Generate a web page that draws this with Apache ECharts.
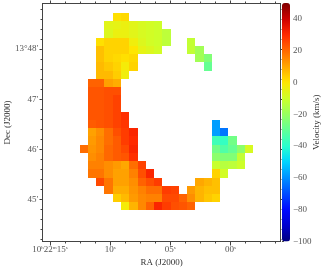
<!DOCTYPE html>
<html><head><meta charset="utf-8">
<style>html,body{margin:0;padding:0;background:#fff}#c{width:326px;height:272px}</style>
<script src="https://cdn.jsdelivr.net/npm/echarts@6/dist/echarts.min.js"></script>
</head><body><div id="c"></div>
<script>
// RA is seconds past 10h22m, Dec is arcminutes past 13 deg
const raFirstCol = 12.186, raStep = 0.687;
const decFirstRow = 48.64, decStep = 0.1643;
// [row, first column, velocities km/s]
const velocityRuns = [
 [0,4,[1,2]],
 [1,3,[-6,-5,-4,-6,-8,-9,-10]],
 [2,3,[-7,-4,-4,-6,-8,-9,-10,-13]],
 [3,2,[1,3,3,3,-3,-7,-9,-10,-13]],[3,13,[-12]],
 [4,2,[6,3,3,3,0,-5,-7,-9]],[4,13,[-12,-18]],
 [5,2,[6,3,2,1,2]],[5,14,[-18,-24]],
 [6,2,[7,5,3,-2,3]],[6,15,[-29]],
 [7,2,[7,7,4,-3]],
 [8,1,[21,21,11,9]],
 [9,1,[23,23,24,24]],
 [10,1,[23,23,24,26]],
 [11,1,[23,23,24,26]],
 [12,1,[23,23,24,26,29]],
 [13,1,[22,23,24,26,28]],[13,16,[-58]],
 [14,1,[11,14,19,24,27,31]],[14,16,[-58,-64]],
 [15,1,[12,15,19,22,27,30]],[15,16,[-36,-38,-27]],
 [16,0,[19,13,15,20,22,25,31]],[16,16,[-27,-33,-29,-22,-8]],
 [17,1,[14,16,20,22,23,29]],[17,16,[-22,-24,-24,-12]],
 [18,1,[16,16,14,12,10,19,26]],[18,16,[-11,-14,-13,-10]],
 [19,1,[18,18,14,11,11,16,24,31]],[19,16,[3,-9]],
 [20,2,[25,18,11,11,14,21,24,27]],[20,14,[10,8,6]],
 [21,3,[18,9,9,13,16,19,19,27,26]],[21,13,[12,8,6,6]],
 [22,4,[4,7,12,15,16,16,25,25,21,14,8,5,3]],
 [23,5,[-2,8,15,21,31,27,24,23,21]]
];
const jetColors = ['#00007f','#0000cd','#0008ff','#004cff','#0090ff','#00d4ff','#29ffcd','#60ff97','#97ff60','#cdff29','#ffe600','#ffa700','#ff6800','#ff2900','#cd0000','#7f0000'];
const raMajor = [15,10,5,0];
const raMinor = [13.75,12.5,11.25,8.75,7.5,6.25,3.75,2.5,1.25,-1.25,-2.5,-3.75];
const raLabels = {15:'10{s|h}22{s|m}15{s|s}',10:'10{s|s}',5:'05{s|s}',0:'00{s|s}'};
const decMajor = [48,47,46,45];
const decMinor = [48.8,48.6,48.4,48.2,47.8,47.6,47.4,47.2,46.8,46.6,46.4,46.2,45.8,45.6,45.4,45.2,44.8,44.6,44.4,44.2];
const decLabels = {48:'13°48′',47:'47′',46:'46′',45:'45′'};
const velTicks = [-100,-80,-60,-40,-20,0,20,40];
const raRange = [-4.16,15.62], decRange = [44.16,48.91], velRange = [-100,50];

const ink = '#444', textInk = '#555', serif = '"Liberation Serif","DejaVu Serif",serif';
const cells = [];
velocityRuns.forEach(([row,col,vals]) => vals.forEach((v,i) =>
  cells.push([raFirstCol-(col+i)*raStep, decFirstRow-row*decStep, v])));

const hide = {show:false};
function xA(pos,vals,len,labels){
  return {type:'value',gridIndex:0,position:pos,inverse:true,min:raRange[0],max:raRange[1],
    splitLine:hide,axisLine:{show:true,onZero:false,lineStyle:{color:ink,width:1}},
    axisTick:{show:true,length:len,customValues:vals,lineStyle:{color:ink,width:1}},
    axisLabel:labels?{show:true,customValues:vals,margin:4,fontFamily:serif,fontSize:9,color:textInk,
      hideOverlap:false,showMinLabel:true,showMaxLabel:true,
      formatter:v=>raLabels[v]||'',rich:{s:{fontSize:5,fontFamily:serif,color:textInk,verticalAlign:'top',lineHeight:9}}}:hide,
    name:labels?'RA (J2000)':'',nameLocation:'middle',nameGap:17,nameMoveOverlap:false,
    nameTextStyle:{fontFamily:serif,fontSize:9,color:'#333'}};
}
function yA(pos,vals,len,labels){
  return {type:'value',gridIndex:0,position:pos,min:decRange[0],max:decRange[1],
    splitLine:hide,axisLine:{show:true,onZero:false,lineStyle:{color:ink,width:1}},
    axisTick:{show:true,length:len,customValues:vals,lineStyle:{color:ink,width:1}},
    axisLabel:labels?{show:true,customValues:vals,margin:4,fontFamily:serif,fontSize:9,color:textInk,
      formatter:v=>decLabels[v]||''}:hide,
    name:labels?'Dec (J2000)':'',nameLocation:'middle',nameGap:30,nameMoveOverlap:false,
    nameTextStyle:{fontFamily:serif,fontSize:9,color:'#333'}};
}
const option = {
  animation:false,backgroundColor:'#fff',
  grid:[{left:42.5,top:3.5,width:238,height:238,containLabel:false,outerBoundsMode:'none'},
        {left:282,top:3,width:8,height:238.5,containLabel:false,outerBoundsMode:'none'}],
  xAxis:[xA('bottom',raMajor,4,true),xA('bottom',raMinor,2,false),xA('top',raMajor,3,false),xA('top',raMinor,2,false),
    {type:'value',gridIndex:1,show:false,min:0,max:1}],
  yAxis:[yA('left',decMajor,3,true),yA('left',decMinor,2,false),yA('right',decMajor,2,false),yA('right',decMinor,1,false),
    {type:'value',gridIndex:1,position:'right',min:velRange[0],max:velRange[1],
     splitLine:hide,axisLine:{show:false},
     axisTick:{show:true,length:2,customValues:velTicks,lineStyle:{color:ink}},
     axisLabel:{show:true,customValues:velTicks,margin:3,fontFamily:serif,fontSize:9,color:textInk,
       formatter:v=>String(v).replace('-','−')},
     name:'Velocity (km/s)',nameLocation:'middle',nameGap:22,nameMoveOverlap:false,
     nameTextStyle:{fontFamily:serif,fontSize:9,color:'#333'}}],
  visualMap:{type:'continuous',seriesIndex:0,dimension:2,min:velRange[0],max:velRange[1],
    inRange:{color:jetColors},left:282,top:3,itemWidth:8,itemHeight:238.5,
    text:['',''],textGap:0,calculable:false,realtime:false,hoverLink:false,padding:0,align:'right',orient:'vertical'},
  series:[{type:'custom',xAxisIndex:0,yAxisIndex:0,coordinateSystem:'cartesian2d',
    encode:{x:0,y:1},data:cells,clip:true,silent:true,
    renderItem(params,api){
      const p=api.coord([api.value(0),api.value(1)]);
      const s=api.size([raStep,decStep]);
      const x0=Math.round(p[0]-s[0]/2),x1=Math.round(p[0]+s[0]/2);
      const y0=Math.round(p[1]-s[1]/2),y1=Math.round(p[1]+s[1]/2);
      return {type:'rect',shape:{x:x0,y:y0,width:x1-x0,height:y1-y0},style:{fill:api.visual('color')}};
    }}]
};
echarts.init(document.getElementById('c'),null,{renderer:'canvas'}).setOption(option);
</script></body></html>
